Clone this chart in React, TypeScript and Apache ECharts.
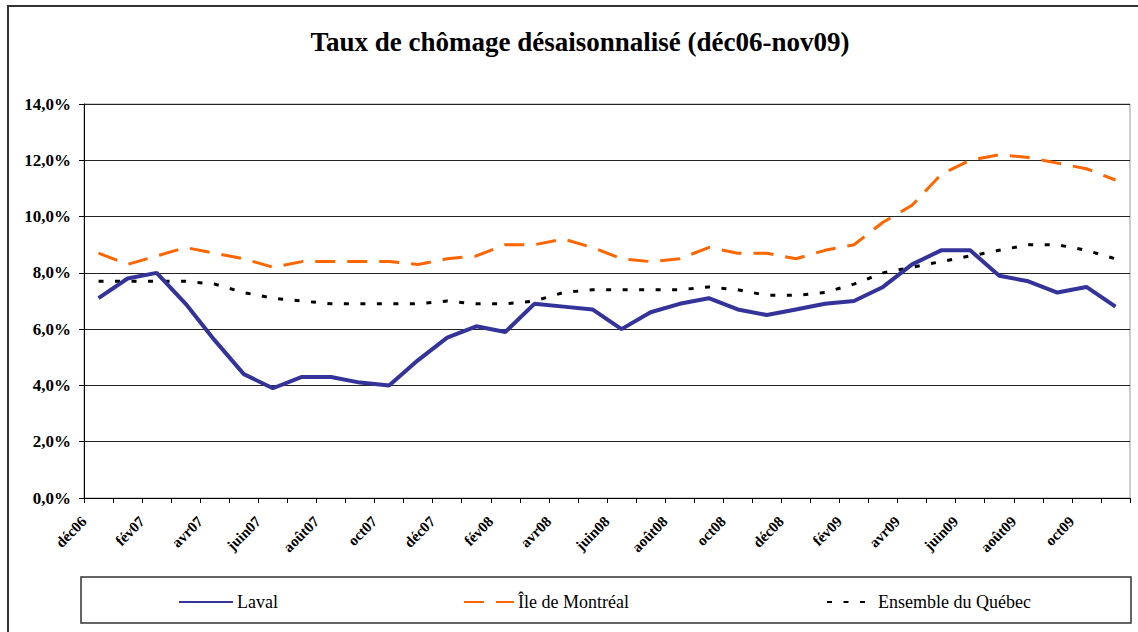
import React, { useEffect, useRef } from "react";
import * as echarts from "echarts";

const months = [
  "déc06", "janv07", "fév07", "mars07", "avr07", "mai07", "juin07", "juil07", "août07", "sept07", "oct07", "nov07",
  "déc07", "janv08", "fév08", "mars08", "avr08", "mai08", "juin08", "juil08", "août08", "sept08", "oct08", "nov08",
  "déc08", "janv09", "fév09", "mars09", "avr09", "mai09", "juin09", "juil09", "août09", "sept09", "oct09", "nov09",
];

const laval = [7.1, 7.8, 8.0, 6.9, 5.6, 4.4, 3.9, 4.3, 4.3, 4.1, 4.0, 4.9, 5.7, 6.1, 5.9, 6.9, 6.8, 6.7, 6.0, 6.6, 6.9, 7.1, 6.7, 6.5, 6.7, 6.9, 7.0, 7.5, 8.3, 8.8, 8.8, 7.9, 7.7, 7.3, 7.5, 6.8];
const montreal = [8.7, 8.3, 8.6, 8.9, 8.7, 8.5, 8.2, 8.4, 8.4, 8.4, 8.4, 8.3, 8.5, 8.6, 9.0, 9.0, 9.2, 8.9, 8.5, 8.4, 8.5, 8.9, 8.7, 8.7, 8.5, 8.8, 9.0, 9.8, 10.4, 11.5, 12.0, 12.2, 12.1, 11.9, 11.7, 11.3];
const quebec = [7.7, 7.7, 7.7, 7.7, 7.6, 7.3, 7.1, 7.0, 6.9, 6.9, 6.9, 6.9, 7.0, 6.9, 6.9, 7.0, 7.3, 7.4, 7.4, 7.4, 7.4, 7.5, 7.4, 7.2, 7.2, 7.3, 7.6, 8.0, 8.2, 8.4, 8.6, 8.8, 9.0, 9.0, 8.8, 8.5];

const seriesNames = ["Laval", "Île de Montréal", "Ensemble du Québec"];
const titleText = "Taux de chômage désaisonnalisé (déc06-nov09)";

const FONT = "Liberation Serif";

export default function App() {
  const ref = useRef<HTMLDivElement>(null);
  useEffect(() => {
    if (!ref.current) return;
    const chart = echarts.init(ref.current, null, { renderer: "svg" });
    const legendBase = {
      orient: "horizontal",
      top: 593,
      padding: 0,
      itemHeight: 14,
      itemGap: 5,
      itemStyle: { opacity: 0 },
      textStyle: { fontFamily: FONT, fontSize: 18, color: "#000", padding: [0, 0, 0, -1] },
    };
    chart.setOption({
      animation: false,
      backgroundColor: "#fff",
      textStyle: { fontFamily: FONT },
      title: {
        text: titleText,
        left: 575,
        top: 23,
        textAlign: "center",
        textStyle: { fontFamily: FONT, fontSize: 27, fontWeight: "bold", color: "#000" },
      },
      grid: {
        left: 84,
        right: 8,
        top: 104,
        bottom: 134,
        show: true,
        borderColor: "#999",
        borderWidth: 1,
        backgroundColor: "transparent",
      },
      legend: [
        { ...legendBase, left: 178, itemWidth: 54, data: [seriesNames[0]] },
        { ...legendBase, left: 463, itemWidth: 50, data: [seriesNames[1]] },
        { ...legendBase, left: 826, itemWidth: 47, data: [seriesNames[2]] },
      ],
      xAxis: [
        {
          type: "category",
          data: months,
          boundaryGap: true,
          axisLine: { lineStyle: { color: "#000", width: 1 } },
          axisTick: { show: true, interval: 0, length: 5, lineStyle: { color: "#000" } },
          axisLabel: { show: false },
          splitLine: { show: false },
        },
        {
          type: "category",
          data: [...months, ""],
          boundaryGap: false,
          position: "bottom",
          axisLine: { show: false },
          axisTick: { show: false },
          axisLabel: {
            interval: 1,
            rotate: 45,
            margin: 21,
            fontFamily: FONT,
            fontSize: 15,
            fontWeight: "bold",
            color: "#000",
          },
          splitLine: { show: false },
        },
      ],
      yAxis: {
        type: "value",
        min: 0,
        max: 14,
        interval: 2,
        axisLine: { show: true, lineStyle: { color: "#000" } },
        axisTick: { show: true, length: 5, lineStyle: { color: "#000" } },
        axisLabel: {
          margin: 13,
          fontFamily: FONT,
          fontSize: 17,
          fontWeight: "bold",
          color: "#000",
          formatter: (v: number) => v.toFixed(1).replace(".", ",") + "%",
        },
        splitLine: { show: true, lineStyle: { color: "#222", width: 1 } },
      },
      series: [
        {
          name: seriesNames[0],
          type: "line",
          data: laval,
          xAxisIndex: 0,
          symbol: "none",
          lineStyle: { color: "#333399", width: 4 },
          itemStyle: { color: "#333399" },
          z: 5,
        },
        {
          name: seriesNames[1],
          type: "line",
          data: montreal,
          xAxisIndex: 0,
          symbol: "none",
          lineStyle: { color: "#FF6600", width: 3, type: [20, 12] },
          itemStyle: { color: "#FF6600" },
          z: 4,
        },
        {
          name: seriesNames[2],
          type: "line",
          data: quebec,
          xAxisIndex: 0,
          symbol: "none",
          lineStyle: { color: "#000", width: 3, type: [5, 11.5] },
          itemStyle: { color: "#000" },
          z: 3,
        },
      ],
      graphic: [
        {
          type: "rect",
          shape: { x: 8, y: 6, width: 1140, height: 640 },
          style: { fill: "none", stroke: "#333", lineWidth: 2 },
          silent: true,
        },
        {
          type: "rect",
          shape: { x: 81, y: 577, width: 1050, height: 46 },
          style: { fill: "none", stroke: "#333", lineWidth: 1.5 },
          silent: true,
        },
      ],
    });
    return () => chart.dispose();
  }, []);
  return (
    <div
      ref={ref}
      style={{ position: "absolute", left: 0, top: 0, width: 1138, height: 632 }}
    />
  );
}
